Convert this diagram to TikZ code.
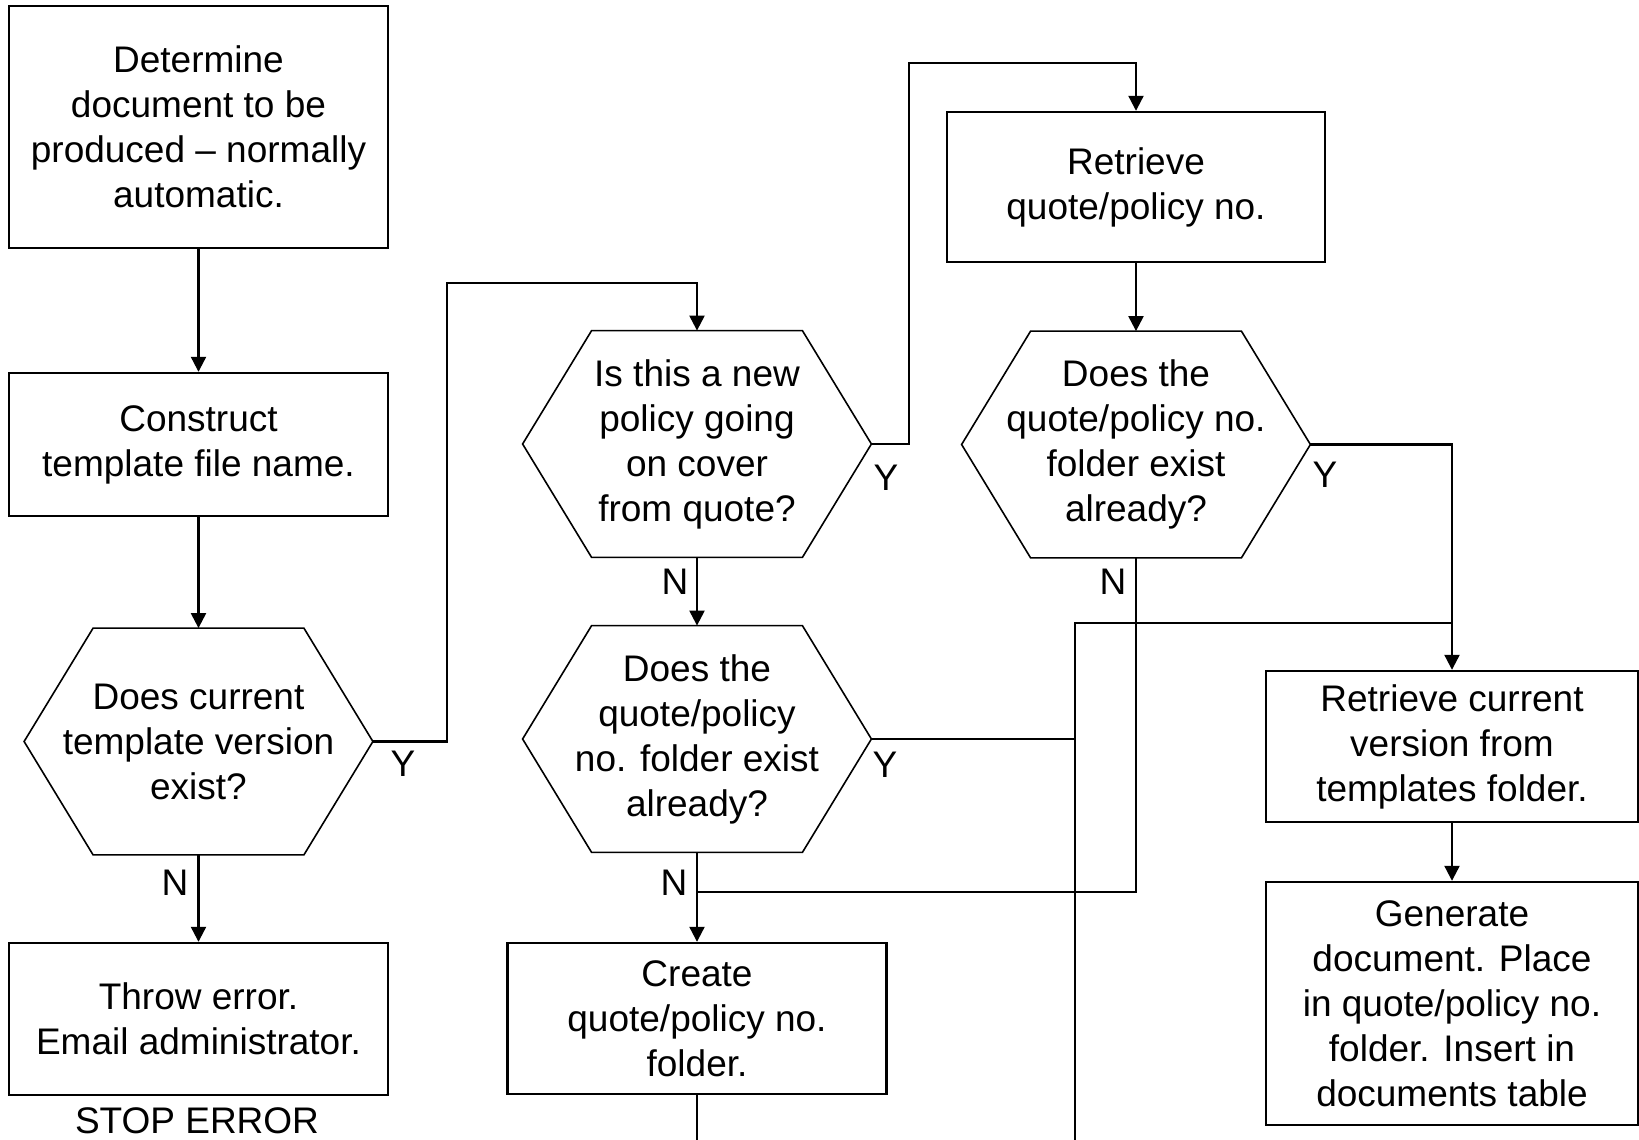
\documentclass[tikz,border=0pt]{standalone}
\usepackage{fontspec}
\setmainfont{Liberation Sans}
\usetikzlibrary{arrows.meta,graphs}

\tikzset{
  box/.style={draw, line width=1.2pt, minimum width=189.5pt, align=center, inner sep=0pt},
  hexbox/.style={minimum width=174pt, minimum height=113pt, align=center, inner sep=0pt},
  hexline/.style={line width=0.8pt},
  link/.style={line width=1.1pt},
  arr/.style={link, ->},
}

\begin{document}
\begin{tikzpicture}[x=0.5pt, y=-0.5pt, font=\fontsize{18.5}{22.5}\selectfont,
    >={Triangle[width=7.5pt,length=7.5pt]}]
  \useasboundingbox (0,0) rectangle (1639,1140);
    % left column
    \node[box, minimum height=121pt] (det) at (198.5,127) {Determine\\document to be\\produced – normally\\automatic.};
    \node[box, minimum height=71.5pt] (cons) at (198.5,444.5) {Construct\\template file name.};
    \node[hexbox] (cur) at (198.5,741.5) {Does current\\template version\\exist?};
    \node[box, minimum height=76pt] (err) at (198.5,1019) {Throw error.\\Email administrator.};
    \node[inner sep=0pt] (stop) at (197,1121) {STOP ERROR};
    % middle column
    \node[hexbox] (new) at (697,444) {Is this a new\\policy going\\on cover\\from quote?};
    \node[hexbox] (exist1) at (697,739) {Does the\\quote/policy\\no. folder exist\\already?};
    \node[box, minimum height=75.5pt] (create) at (697,1018.5) {Create\\quote/policy no.\\folder.};
    % right columns
    \node[box, minimum width=189pt, minimum height=75pt] (retr) at (1136,187) {Retrieve\\quote/policy no.};
    \node[hexbox] (exist2) at (1136,444.5) {Does the\\quote/policy no.\\folder exist\\already?};
    \node[box, minimum width=186pt, minimum height=75.5pt] (cver) at (1452,746.5) {Retrieve current\\version from\\templates folder.};
    \node[box, minimum width=186pt, minimum height=121.5pt] (gen) at (1452,1003.5) {Generate\\document. Place\\in quote/policy no.\\folder. Insert in\\documents table};
    \coordinate (j1) at (697,892);
    \coordinate (j2) at (1452,623);
    \coordinate (out1) at (697,1150);
    \coordinate (out2) at (1075,1150);
  \foreach \n in {cur,new,exist1,exist2}
    \draw[hexline] (\n.west) -- ([xshift=34.5pt]\n.north west) -- ([xshift=-34.5pt]\n.north east)
      -- (\n.east) -- ([xshift=-34.5pt]\n.south east) -- ([xshift=34.5pt]\n.south west) -- cycle;
  \graph[use existing nodes, edges={link}] {
    det -> cons -> cur -> err;
    new -> exist1 -> create;
    retr -> exist2;
    cver -> gen;
  };
    \draw[arr] (cur.east) -| (447,283) -| (new.north);
    \draw[arr] (new.east) -| (909,63) -| (retr.north);
    \draw[arr] (exist2.east) -| (cver.north);
    \draw[link] (exist2.south) |- (j1);
    \draw[link] (exist1.east) -| (1075,623) -- (j2);
    \draw[link] (out2) |- (exist1.east);
    \draw[link] (create) -- (out1);
    % yes / no labels
    \node (y1) at (403,764) {Y};
    \node (n1) at (175,883) {N};
    \node (y2) at (886,478) {Y};
    \node (n2) at (675,582) {N};
    \node (y3) at (885,765) {Y};
    \node (n3) at (674,883) {N};
    \node (y4) at (1325,475) {Y};
    \node (n4) at (1113,582) {N};
\end{tikzpicture}
\end{document}
